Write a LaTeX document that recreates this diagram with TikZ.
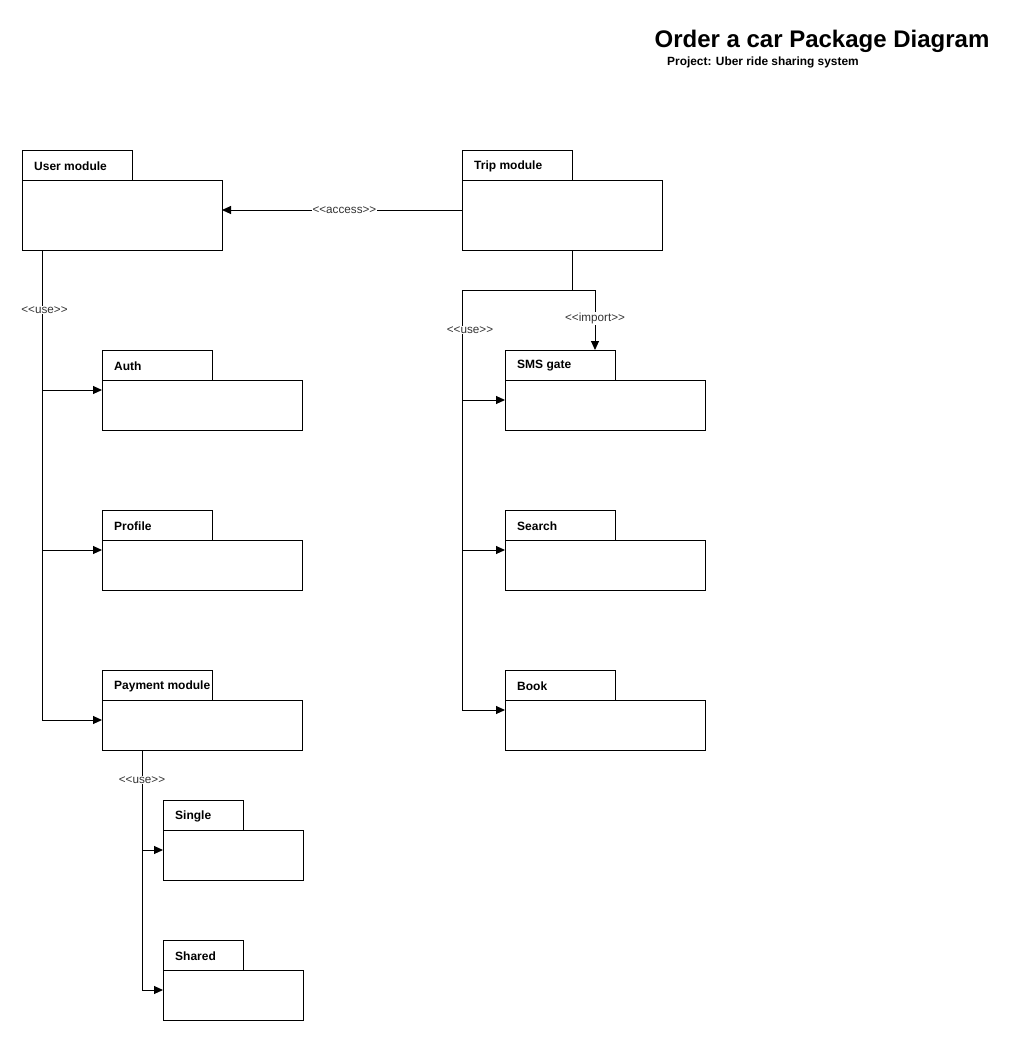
\documentclass[tikz,border=0pt]{standalone}
\usepackage{fontspec}
\setmainfont{Liberation Sans}
\usetikzlibrary{arrows.meta,calc}
\newcommand\stereo[1]{<{}<#1>{}>}
\begin{document}
\begin{tikzpicture}[x=1pt,y=-1pt,
  body/.style={draw, line width=1pt, outer sep=0pt, anchor=north west, minimum width=200pt, minimum height=50pt, inner sep=0pt},
  tab/.style={draw, line width=1pt, outer sep=0pt, anchor=south west, minimum height=30pt, minimum width=110pt, inner sep=0pt},
  smalltab/.style={tab, minimum width=80pt},
  pname/.style={anchor=west, inner sep=0pt, font=\fontsize{12}{14}\selectfont\bfseries},
  conn/.style={line width=1pt},
  arr/.style={line width=1pt, -{Triangle[length=9pt,width=8pt]}},
  lbl/.style={fill=white, inner sep=1pt, font=\fontsize{11.7}{13}\selectfont, text=black!80}
]
\useasboundingbox (0,0) rectangle (1010,1041);

% title
\node[font=\fontsize{24}{28}\selectfont\bfseries, inner sep=0pt] (title) at (822,41.5) {Order a car Package Diagram};
\node[anchor=west, font=\fontsize{11.9}{14}\selectfont\bfseries, inner sep=0pt] (sub) at (667,62.5) {Project: Uber ride sharing system};

% packages
\node[body, minimum height=70pt] (user) at (22,180) {};
\node[tab] (userT) at (user.north west) {};
\node[pname] (userN) at ($(userT.west)+(12,1)$) {User module};
\node[body, minimum height=70pt] (trip) at (462,180) {};
\node[tab] (tripT) at (trip.north west) {};
\node[pname] (tripN) at ($(tripT.west)+(12,1)$) {Trip module};

\node[body] (auth) at (102,380) {};
\node[tab] (authT) at (auth.north west) {};
\node[pname] (authN) at ($(authT.west)+(12,1)$) {Auth};
\node[body] (prof) at (102,540) {};
\node[tab] (profT) at (prof.north west) {};
\node[pname] (profN) at ($(profT.west)+(12,1)$) {Profile};
\node[body] (pay) at (102,700) {};
\node[tab] (payT) at (pay.north west) {};
\node[pname] (payN) at ($(payT.west)+(12,1)$) {Payment module};

\node[body, minimum width=140pt] (single) at (163,830) {};
\node[smalltab] (singleT) at (single.north west) {};
\node[pname] (singleN) at ($(singleT.west)+(12,1)$) {Single};
\node[body, minimum width=140pt] (shared) at (163,970) {};
\node[smalltab] (sharedT) at (shared.north west) {};
\node[pname] (sharedN) at ($(sharedT.west)+(12,1)$) {Shared};

\node[body] (sms) at (505,380) {};
\node[tab] (smsT) at (sms.north west) {};
\node[pname] (smsN) at ($(smsT.west)+(12,1)$) {SMS gate};
\node[body] (search) at (505,540) {};
\node[tab] (searchT) at (search.north west) {};
\node[pname] (searchN) at ($(searchT.west)+(12,1)$) {Search};
\node[body] (book) at (505,700) {};
\node[tab] (bookT) at (book.north west) {};
\node[pname] (bookN) at ($(bookT.west)+(12,1)$) {Book};

% access
\coordinate (accA) at ($(trip.north west)+(0,30)$);
\coordinate (accB) at ($(user.north east)+(0,30)$);
\draw[arr] (accA) -- node[lbl, pos=0.49] (accL) {\stereo{access}} (accB);

% user module uses
\coordinate (u0) at ($(user.south west)+(20,0)$);
\coordinate (uA) at ($(auth.north west)+(0,10)$);
\coordinate (uP) at ($(prof.north west)+(0,10)$);
\coordinate (uY) at ($(pay.north west)+(0,20)$);
\draw[conn] (u0) -- (u0 |- uY);
\draw[arr] (u0 |- uA) -- (uA);
\draw[arr] (u0 |- uP) -- (uP);
\draw[arr] (u0 |- uY) -- (uY);
\node[lbl] (uL) at ($(u0)+(2.5,60)$) {\stereo{use}};

% payment uses
\coordinate (p0) at ($(pay.south west)+(40,0)$);
\coordinate (pS) at ($(single.north west)+(0,20)$);
\coordinate (pH) at ($(shared.north west)+(0,20)$);
\draw[conn] (p0) -- (p0 |- pH);
\draw[arr] (p0 |- pS) -- (pS);
\draw[arr] (p0 |- pH) -- (pH);
\node[lbl] (pL) at ($(p0)+(0,30)$) {\stereo{use}};

% trip module
\coordinate (t0) at ($(trip.south west)+(110,0)$);
\coordinate (t1) at ($(trip.south west)+(0,40)$);
\coordinate (t2) at ($(smsT.north west)+(90,-60)$);
\coordinate (tS) at ($(sms.north west)+(0,20)$);
\coordinate (tR) at ($(search.north west)+(0,10)$);
\coordinate (tB) at ($(book.north west)+(0,10)$);
\draw[conn] (t0) -- (t0 |- t1);
\draw[conn] (t1) -- (t2);
\draw[arr] (t2) -- node[lbl, pos=0.47] (impL) {\stereo{import}} (t2 |- smsT.north);
\draw[conn] (t1) -- (t1 |- tB);
\draw[arr] (t1 |- tS) -- (tS);
\draw[arr] (t1 |- tR) -- (tR);
\draw[arr] (t1 |- tB) -- (tB);
\node[lbl] (tL) at ($(t1)+(8,40)$) {\stereo{use}};
\end{tikzpicture}
\end{document}
